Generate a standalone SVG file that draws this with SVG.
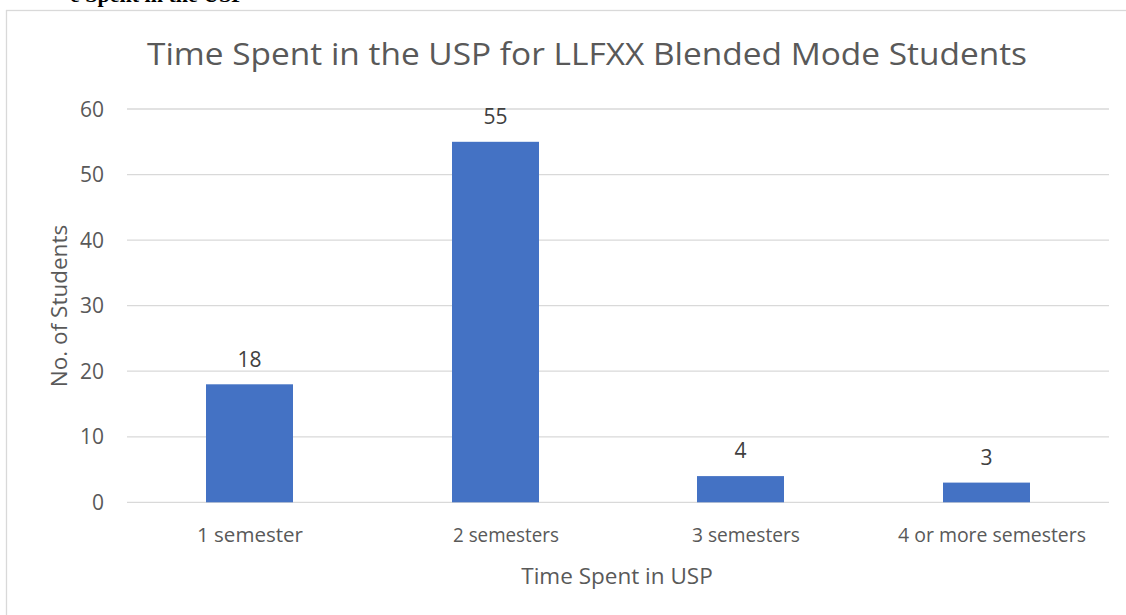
<svg xmlns="http://www.w3.org/2000/svg" width="1126" height="615" viewBox="0 0 1126 615">
<style>
.t{font-family:"Open Sans","Liberation Sans",sans-serif;fill:#595959}
.tick{font-size:21px;text-anchor:end}
.cat{font-size:20.5px;text-anchor:middle}
.lbl{font-size:21px;text-anchor:middle;fill:#404040}
.grid{stroke:#d9d9d9;stroke-width:1.3}
.bar{fill:#4472c4}
</style>
<rect width="1126" height="615" fill="#ffffff"/>
<text x="70" y="2" font-family="'Liberation Serif',serif" font-weight="bold" font-size="22" fill="#000">e Spent in the USP</text>
<rect x="6.5" y="10.5" width="1140" height="620" fill="#ffffff" stroke="#d9d9d9" stroke-width="1.3"/>
<text id="title" class="t" x="587" y="64.5" font-size="31" text-anchor="middle" textLength="880" lengthAdjust="spacingAndGlyphs">Time Spent in the USP for LLFXX Blended Mode Students</text>
<g id="gridlines">
<line class="grid" x1="127" y1="109" x2="1109" y2="109"/>
<line class="grid" x1="127" y1="174.6" x2="1109" y2="174.6"/>
<line class="grid" x1="127" y1="240.1" x2="1109" y2="240.1"/>
<line class="grid" x1="127" y1="305.7" x2="1109" y2="305.7"/>
<line class="grid" x1="127" y1="371.2" x2="1109" y2="371.2"/>
<line class="grid" x1="127" y1="436.8" x2="1109" y2="436.8"/>
<line class="grid" x1="127" y1="502.3" x2="1109" y2="502.3"/>
</g>
<g id="yticks">
<text class="t tick" x="104" y="116.5">60</text>
<text class="t tick" x="104" y="182">50</text>
<text class="t tick" x="104" y="247.5">40</text>
<text class="t tick" x="104" y="313">30</text>
<text class="t tick" x="104" y="378.5">20</text>
<text class="t tick" x="104" y="444">10</text>
<text class="t tick" x="104" y="509.5">0</text>
</g>
<g id="bar-1">
<rect class="bar" x="206" y="384.3" width="87" height="118"/>
<text class="t lbl" x="249.5" y="366.5">18</text>
</g>
<g id="bar-2">
<rect class="bar" x="452" y="141.8" width="87" height="360.5"/>
<text class="t lbl" x="495.5" y="124">55</text>
</g>
<g id="bar-3">
<rect class="bar" x="697" y="476.1" width="87" height="26.2"/>
<text class="t lbl" x="740.5" y="458.3">4</text>
</g>
<g id="bar-4">
<rect class="bar" x="943" y="482.6" width="87" height="19.7"/>
<text class="t lbl" x="986.5" y="464.8">3</text>
</g>
<g id="xcats">
<text class="t cat" x="250" y="541.7" textLength="106" lengthAdjust="spacingAndGlyphs">1 semester</text>
<text class="t cat" x="506" y="541.7" textLength="106" lengthAdjust="spacingAndGlyphs">2 semesters</text>
<text class="t cat" x="746" y="541.7" textLength="108" lengthAdjust="spacingAndGlyphs">3 semesters</text>
<text class="t cat" x="992" y="541.7" textLength="188" lengthAdjust="spacingAndGlyphs">4 or more semesters</text>
</g>
<text id="xtitle" class="t" x="617" y="583.5" font-size="22.5" text-anchor="middle">Time Spent in USP</text>
<text id="ytitle" class="t" transform="translate(67,306) rotate(-90)" font-size="22.5" text-anchor="middle">No. of Students</text>
</svg>
